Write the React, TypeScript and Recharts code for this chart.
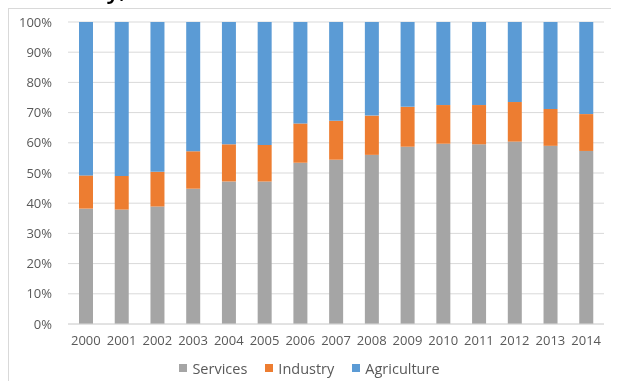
import React from "react";
import { Bar, BarChart, CartesianGrid, Legend, XAxis, YAxis } from "recharts";

const years = ["2000", "2001", "2002", "2003", "2004", "2005", "2006", "2007", "2008", "2009", "2010", "2011", "2012", "2013", "2014"];
const services = [38.2, 37.9, 38.9, 44.8, 47.2, 47.2, 53.4, 54.4, 56.0, 58.7, 59.7, 59.5, 60.4, 59.0, 57.3];
const industry = [11.0, 11.1, 11.5, 12.4, 12.3, 12.1, 13.0, 12.9, 13.0, 13.2, 12.8, 13.0, 13.1, 12.2, 12.2];
const agriculture = [50.8, 51.0, 49.6, 42.8, 40.5, 40.7, 33.6, 32.7, 31.0, 28.1, 27.5, 27.5, 26.5, 28.8, 30.5];
const yTicks = [0, 0.1, 0.2, 0.3, 0.4, 0.5, 0.6, 0.7, 0.8, 0.9, 1];

const series = [
  { key: "Services", color: "#a5a5a5" },
  { key: "Industry", color: "#ed7d31" },
  { key: "Agriculture", color: "#5b9bd5" },
];

const rows = years.map((year, i) => ({
  year,
  Services: services[i],
  Industry: industry[i],
  Agriculture: agriculture[i],
}));

// tick marks between categories, like the spreadsheet axis
const edgeTicks = years.map((_, i) => i).concat(years.length);

const font = "'Open Sans', 'DejaVu Sans', sans-serif";
const textColor = "#595959";
const lineColor = "#d9d9d9";

function LegendContent() {
  return (
    <div style={{ display: "flex", justifyContent: "center", paddingLeft: 24, height: 24, alignItems: "center", fontFamily: font, fontSize: 14.5, color: textColor }}>
      {series.map((s) => (
        <span key={s.key} style={{ display: "inline-flex", alignItems: "center", marginRight: 18 }}>
          <span style={{ width: 8, height: 8, background: s.color, display: "inline-block", marginRight: 5 }} />
          {s.key}
        </span>
      ))}
    </div>
  );
}

export default function App() {
  return (
    <div style={{ position: "relative" }}>
      {/* title is mostly cut off above the frame in the original */}
      <div style={{ position: "fixed", top: 0, left: 0, width: 619, height: 5, overflow: "hidden" }}>
        <div style={{ position: "absolute", top: -28, left: 14, fontFamily: font, fontSize: 24, fontWeight: 600, color: "#000", whiteSpace: "nowrap" }}>
          Economy, 2000-2014
        </div>
      </div>
      <div style={{ width: 607, height: 380, border: `1px solid ${lineColor}`, background: "#fff" }}>
        <BarChart
          width={607}
          height={380}
          data={rows}
          stackOffset="expand"
          barSize={14}
          margin={{ top: 13, right: 12, bottom: 9, left: 0 }}
        >
          <CartesianGrid vertical={false} stroke={lineColor} />
          <XAxis
            xAxisId="edges"
            type="number"
            domain={[0, years.length]}
            ticks={edgeTicks}
            tick={false}
            tickLine={{ stroke: lineColor }}
            tickSize={5}
            axisLine={false}
            height={0}
          />
          <XAxis
            dataKey="year"
            tickLine={false}
            axisLine={{ stroke: lineColor }}
            tick={{ fill: textColor, fontSize: 13, fontFamily: font }}
            tickSize={0}
            tickMargin={12}
            height={32}
            interval={0}
          />
          <YAxis
            ticks={yTicks}
            domain={[0, 1]}
            tickFormatter={(v: number) => `${Math.round(v * 100)}%`}
            tickLine={false}
            axisLine={false}
            tick={{ fill: textColor, fontSize: 13, fontFamily: font }}
            tickSize={0}
            tickMargin={16}
            width={59}
          />
          <Legend verticalAlign="bottom" height={24} content={<LegendContent />} />
          {series.map((s) => (
            <Bar key={s.key} dataKey={s.key} stackId="a" fill={s.color} isAnimationActive={false} />
          ))}
        </BarChart>
      </div>
    </div>
  );
}
